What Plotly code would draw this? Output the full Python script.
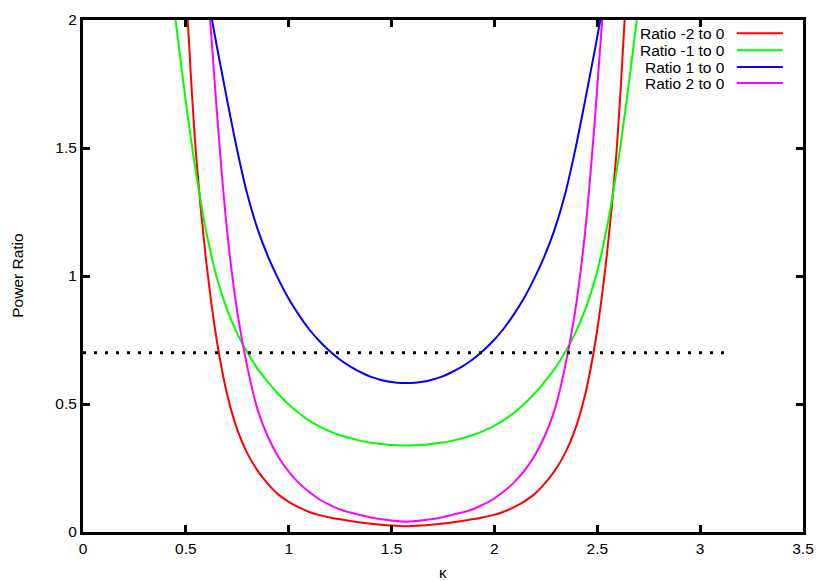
import plotly.graph_objects as go

# values (curves are symmetric round kappa = pi/2)
red_x = [0.50, 0.55, 0.60, 0.65, 0.70, 0.75, 0.80, 0.85, 0.90, 0.95, 1.00, 1.05, 1.10, 1.15, 1.20, 1.25, 1.30,
         1.35, 1.40, 1.45, 1.50, 1.55, 1.571, 1.592, 1.642, 1.692, 1.742, 1.792, 1.842, 1.892, 1.942, 1.992,
         2.042, 2.092, 2.142, 2.192, 2.242, 2.292, 2.342, 2.392, 2.442, 2.492, 2.542, 2.592, 2.642]
red_y = [2.14, 1.47, 1.05, 0.75, 0.54, 0.40, 0.305, 0.238, 0.187, 0.146, 0.118, 0.096, 0.078, 0.066, 0.057,
         0.0495, 0.043, 0.037, 0.032, 0.028, 0.025, 0.023, 0.0225, 0.023, 0.025, 0.028, 0.032, 0.037, 0.043,
         0.0495, 0.057, 0.066, 0.078, 0.096, 0.118, 0.146, 0.187, 0.238, 0.305, 0.40, 0.54, 0.75, 1.05, 1.47,
         2.14]

green_x = [0.40, 0.45, 0.50, 0.55, 0.60, 0.65, 0.70, 0.75, 0.80, 0.85, 0.90, 0.95, 1.00, 1.05, 1.10, 1.15, 1.20,
           1.25, 1.30, 1.35, 1.40, 1.45, 1.50, 1.55, 1.571, 1.592, 1.642, 1.692, 1.742, 1.792, 1.842, 1.892, 1.942,
           1.992, 2.042, 2.092, 2.142, 2.192, 2.242, 2.292, 2.342, 2.392, 2.442, 2.492, 2.542, 2.592, 2.642,
           2.692, 2.742]
green_y = [2.3, 2.0, 1.68, 1.40, 1.17, 0.995, 0.87, 0.775, 0.70, 0.636, 0.585, 0.538, 0.498, 0.464, 0.435, 0.412,
           0.393, 0.378, 0.366, 0.356, 0.349, 0.344, 0.340, 0.338, 0.338, 0.338, 0.340, 0.344, 0.349, 0.356, 0.366,
           0.378, 0.393, 0.412, 0.435, 0.464, 0.498, 0.538, 0.585, 0.636, 0.70, 0.775, 0.87, 0.995, 1.17, 1.40,
           1.68, 2.0, 2.3]

blue_x = [0.60, 0.65, 0.70, 0.75, 0.80, 0.85, 0.90, 0.95, 1.00, 1.05, 1.10, 1.15, 1.20, 1.25, 1.30, 1.35, 1.40,
          1.45, 1.50, 1.55, 1.571, 1.592, 1.642, 1.692, 1.742, 1.792, 1.842, 1.892, 1.942, 1.992, 2.042, 2.092,
          2.142, 2.192, 2.242, 2.292, 2.342, 2.392, 2.442, 2.492, 2.542]
blue_y = [2.12, 1.90, 1.69, 1.49, 1.315, 1.18, 1.075, 0.988, 0.911, 0.847, 0.791, 0.745, 0.706, 0.673, 0.646,
          0.624, 0.606, 0.594, 0.586, 0.582, 0.582, 0.582, 0.586, 0.594, 0.606, 0.624, 0.646, 0.673, 0.706,
          0.745, 0.791, 0.847, 0.911, 0.988, 1.075, 1.18, 1.315, 1.49, 1.69, 1.90, 2.12]

magenta_x = [0.60, 0.65, 0.70, 0.75, 0.80, 0.85, 0.90, 0.95, 1.00, 1.05, 1.10, 1.15, 1.20, 1.25, 1.30, 1.35,
             1.40, 1.45, 1.50, 1.55, 1.571, 1.592, 1.642, 1.692, 1.742, 1.792, 1.842, 1.892, 1.942, 1.992,
             2.042, 2.092, 2.142, 2.192, 2.242, 2.292, 2.342, 2.392, 2.442, 2.492, 2.542]
magenta_y = [2.2, 1.65, 1.18, 0.86, 0.64, 0.475, 0.37, 0.293, 0.236, 0.191, 0.156, 0.127, 0.106, 0.088, 0.076,
             0.066, 0.057, 0.050, 0.045, 0.041, 0.040, 0.041, 0.045, 0.050, 0.057, 0.066, 0.076, 0.088, 0.106,
             0.127, 0.156, 0.191, 0.236, 0.293, 0.37, 0.475, 0.64, 0.86, 1.18, 1.65, 2.2]

level_x = [0, 3.1416]
level_y = [0.7, 0.7]

series = [
    ("Ratio -2 to 0", red_x, red_y, "#ff0000"),
    ("Ratio -1 to 0", green_x, green_y, "#00ff00"),
    ("Ratio 1 to 0", blue_x, blue_y, "#0000ff"),
    ("Ratio 2 to 0", magenta_x, magenta_y, "#ff00ff"),
]

FONT = "Liberation Sans, Arial, sans-serif"

fig = go.Figure()
for name, xs, ys, color in series:
    fig.add_trace(go.Scatter(x=xs, y=ys, name=name, mode="lines",
                             line=dict(color=color, width=2, shape="spline", smoothing=1.0)))

fig.add_trace(go.Scatter(x=level_x, y=level_y, mode="lines", showlegend=False,
                         line=dict(color="black", width=3, dash="3px,8px")))

# gnuplot style legend: right aligned text, then line sample
legend_rows = [0.974, 0.941, 0.908, 0.877]
for (name, _, _, color), ly in zip(series, legend_rows):
    fig.add_annotation(x=0.894, y=ly, xref="paper", yref="paper", text=name, showarrow=False,
                       xanchor="right", yanchor="middle", height=16,
                       font=dict(size=15.5, color="black", family=FONT))
    fig.add_shape(type="line", xref="paper", yref="paper", x0=0.908, x1=0.972, y0=ly, y1=ly,
                  line=dict(color=color, width=2))

# axis titles placed by hand, as gnuplot does
fig.add_annotation(x=-0.092, y=0.5, xref="paper", yref="paper", text="Power Ratio", textangle=-90,
                   xanchor="center", yanchor="middle", showarrow=False,
                   font=dict(size=15.5, color="black", family=FONT))
fig.add_annotation(x=0.5, y=-0.080, xref="paper", yref="paper", text="κ",
                   xanchor="center", yanchor="middle", showarrow=False,
                   font=dict(size=15.5, color="black", family=FONT))

axis_style = dict(showgrid=False, zeroline=False, showline=True, linecolor="black", linewidth=3,
                  mirror="ticks", ticks="inside", ticklen=7, tickwidth=3, tickcolor="black",
                  automargin=False, tickfont=dict(size=15.5, color="black", family=FONT))

fig.update_xaxes(range=[0, 3.5], dtick=0.5, tick0=0, **axis_style)
fig.update_yaxes(range=[0, 2], dtick=0.5, tick0=0, **axis_style)

# the page body adds 8px on the left and top, so the figure is shrunk to match
fig.update_layout(width=822, height=573, showlegend=False,
                  margin=dict(l=75, r=27, t=12, b=49),
                  paper_bgcolor="white", plot_bgcolor="white",
                  font=dict(family=FONT, size=15.5, color="black"))

fig.write_html("out.html")
